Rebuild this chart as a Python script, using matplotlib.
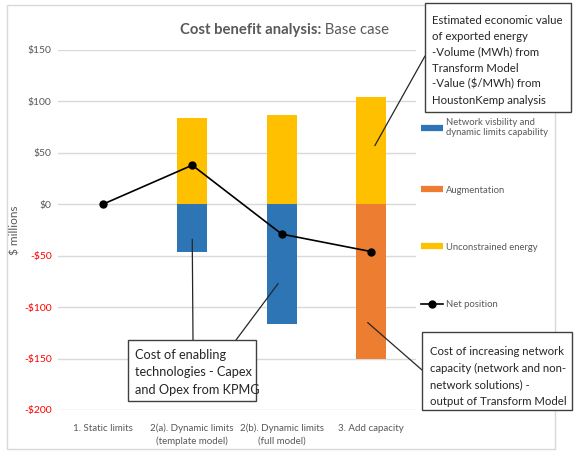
import matplotlib
matplotlib.use("Agg")
import matplotlib.pyplot as plt
from matplotlib.lines import Line2D
from matplotlib.patches import Rectangle

plt.rcParams['font.family'] = ['Lato', 'DejaVu Sans']

# Data ($ millions)
categories = ["1. Static limits", "2(a). Dynamic limits\n(template model)",
              "2(b). Dynamic limits\n(full model)", "3. Add capacity"]
network_visibility = [0, -46, -116, 0]
augmentation = [0, 0, 0, -150]
unconstrained_energy = [0, 84, 87, 104]
net_position = [0, 38, -29, -46]
y_ticks = [-200, -150, -100, -50, 0, 50, 100, 150]

BLUE = "#2E75B6"
ORANGE = "#ED7D31"
YELLOW = "#FFC000"
GREY_TEXT = "#595959"

W, H = 574, 451


def fx(x):
    return x / W


def fy(y):
    return 1 - y / H


fig = plt.figure(figsize=(W / 100, H / 100), dpi=100)
ax = fig.add_axes([fx(58), fy(410), fx(416 - 58), (410 - 50) / H])

# Outer chart border
fig.add_artist(Rectangle((fx(7), fy(449)), fx(555 - 7), (449 - 5) / H,
                         transform=fig.transFigure, fill=False,
                         edgecolor="#D9D9D9", lw=1))

x = list(range(len(categories)))
bar_w = 0.34
ax.bar(x, unconstrained_energy, width=bar_w, color=YELLOW, zorder=2)
ax.bar(x, network_visibility, width=bar_w, color=BLUE, zorder=2)
ax.bar(x, augmentation, width=bar_w, color=ORANGE, zorder=2)
ax.plot(x, net_position, color="black", marker="o", markersize=5, lw=1.2, zorder=3)

ax.set_xlim(-0.5, 3.5)
ax.set_ylim(-200, 150)

# Axis styling
for s in ax.spines.values():
    s.set_visible(False)
ax.yaxis.grid(True, color="#D9D9D9", lw=1)
ax.set_axisbelow(True)
ax.tick_params(length=0)
ax.tick_params(axis="y", pad=4.5, labelsize=7.5)
ax.tick_params(axis="x", pad=10, labelsize=7, labelcolor=GREY_TEXT)
ax.set_xticks(x, categories)
for lab in ax.get_xticklabels():
    lab.set_linespacing(1.4)
ax.set_yticks(y_ticks, [("-$" + str(-v)) if v < 0 else ("$" + str(v)) for v in y_ticks])
for lab, v in zip(ax.get_yticklabels(), y_ticks):
    lab.set_color("#FF0000" if v < 0 else GREY_TEXT)
ax.set_ylabel("$ millions", color=GREY_TEXT, fontsize=8.5)
ax.yaxis.set_label_coords(-0.105, 0.5)

# Title (bold part + regular part)
fig.text(fx(321), fy(30), "Cost benefit analysis:", ha="right", va="center",
         fontsize=10.7, fontweight="bold", color=GREY_TEXT)
fig.text(fx(321), fy(30), " Base case", ha="left", va="center",
         fontsize=10.7, color=GREY_TEXT)

# Legend
handles = [Line2D([], [], color=BLUE, lw=4.5, solid_capstyle="butt"),
           Line2D([], [], color=ORANGE, lw=4.5, solid_capstyle="butt"),
           Line2D([], [], color=YELLOW, lw=4.5, solid_capstyle="butt"),
           Line2D([], [], color="black", marker="o", markersize=5, lw=1.2)]
labels = ["Network visbility and\ndynamic limits capability", "Augmentation",
          "Unconstrained energy", "Net position"]
leg = ax.legend(handles, labels, loc="upper left",
                bbox_to_anchor=(fx(421), fy(118)), bbox_transform=fig.transFigure,
                frameon=False, fontsize=6.8, handlelength=2.3, handletextpad=0.3,
                labelspacing=5.1, borderpad=0, borderaxespad=0)
for t in leg.get_texts():
    t.set_color(GREY_TEXT)


# Callout boxes
def callout(x0, y0, x1, y1, text, tx, ty, fs, ls):
    fig.add_artist(Rectangle((fx(x0), fy(y1)), fx(x1 - x0), (y1 - y0) / H,
                             transform=fig.transFigure, facecolor="white",
                             edgecolor="#404040", lw=1, zorder=5))
    fig.text(fx(tx), fy(ty), text, ha="left", va="top", fontsize=fs,
             linespacing=ls, color="#262626", zorder=6)


def connector(xd, yd, px, py):
    ax.annotate("", xy=(xd, yd), xycoords="data", xytext=(px, H - py),
                textcoords="figure pixels",
                arrowprops=dict(arrowstyle="-", color="#262626", lw=0.9,
                                shrinkA=0, shrinkB=0), zorder=4)


callout(425, 3, 571, 112,
        "Estimated economic value\nof exported energy\n-Volume (MWh) from\n"
        "Transform Model\n-Value ($/MWh) from\nHoustonKemp analysis",
        432, 15, 8.2, 1.54)
connector(3.04, 57, 425, 56)

callout(128, 340, 256, 401,
        "Cost of enabling\ntechnologies - Capex\nand Opex from KPMG",
        135, 349, 9.2, 1.55)
connector(1.0, -34, 193, 340)
connector(1.96, -77, 236, 340)

callout(422, 332, 572, 410,
        "Cost of increasing network\ncapacity (network and non-\n"
        "network solutions) -\noutput of Transform Model",
        430, 346, 8.2, 1.64)
connector(2.96, -115, 422, 370)

fig.savefig("out.png", dpi=100)
